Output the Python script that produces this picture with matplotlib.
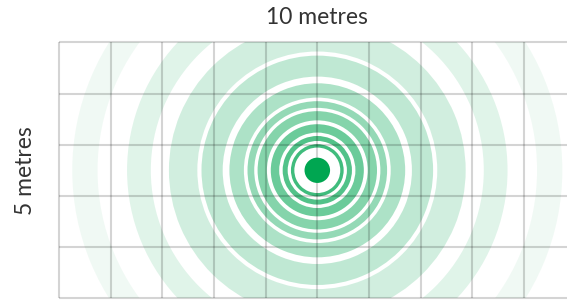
import matplotlib
matplotlib.use("Agg")
import matplotlib.pyplot as plt
from matplotlib.patches import Wedge, Circle

# grid extent (metres)
grid_width_m = 10
grid_height_m = 5
source_xy = (5.0, 2.5)
source_radius_m = 0.247

# signal rings: outer radius (m), ring width (m), opacity
ring_outer_m = [0.51, 0.67, 0.90, 1.155, 1.35, 1.70, 2.24, 2.87, 3.68, 4.74]
ring_width_m = [0.066, 0.097, 0.163, 0.18, 0.13, 0.28, 0.41, 0.55, 0.46, 0.49]
ring_alpha = [0.75, 0.68, 0.58, 0.48, 0.42, 0.32, 0.25, 0.18, 0.12, 0.06]

x_label = "10 metres"
y_label = "5 metres"

green = "#00A651"

fig = plt.figure(figsize=(5.67, 3.04), dpi=100)
W, H = 567, 304
left_px, right_px = 58.8, 575.8
top_px, bottom_px = 42.3, 298.3
ax = fig.add_axes([left_px / W, (H - bottom_px) / H,
                   (right_px - left_px) / W, (bottom_px - top_px) / H])
ax.set_xlim(0, grid_width_m)
ax.set_ylim(0, grid_height_m)
ax.axis("off")

for r, w, a in zip(ring_outer_m, ring_width_m, ring_alpha):
    ax.add_patch(Wedge(source_xy, r, 0, 360, width=w, facecolor=green,
                       alpha=a, edgecolor="none", zorder=2))

# grid lines on top
for i in range(grid_width_m + 1):
    ax.plot([i, i], [0, grid_height_m], color="black", alpha=0.17, lw=1.5,
            zorder=3, clip_on=False, solid_capstyle="butt")
for j in range(grid_height_m + 1):
    ax.plot([0, grid_width_m], [j, j], color="black", alpha=0.17, lw=1.5,
            zorder=3, clip_on=False, solid_capstyle="butt")

ax.add_patch(Circle(source_xy, source_radius_m, facecolor=green,
                    edgecolor="none", zorder=4))

fig.text(317 / W, 1 - 18 / H, x_label, ha="center", va="center",
         fontsize=16.5, color="#333333", family=["Lato", "DejaVu Sans"])
fig.text(26 / W, 1 - 171 / H, y_label, ha="center", va="center",
         rotation=90, fontsize=16.5, color="#333333", family=["Lato", "DejaVu Sans"])

fig.savefig("out.png", dpi=100)
